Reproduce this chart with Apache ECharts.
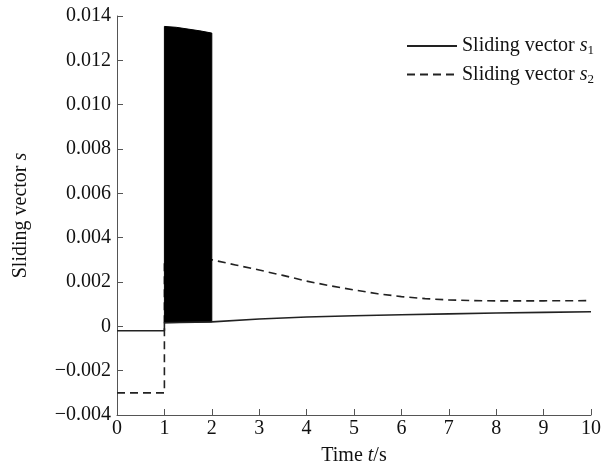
<!DOCTYPE html>
<html>
<head>
<meta charset="utf-8">
<script src="https://cdn.jsdelivr.net/npm/echarts@6/dist/echarts.min.js"></script>
<style>html,body{margin:0;padding:0;background:#fff;}#c{width:615px;height:463px;}</style>
</head>
<body>
<div id="c"></div>
<script>
// ---- data ----
const s1Time  = [0, 1, 1, 2, 3, 4, 5, 6, 7, 8, 9, 10];
const s1Value = [-0.0002, -0.0002, 0.00016, 0.0002, 0.00033, 0.00042, 0.00048, 0.00052, 0.00056, 0.0006, 0.00063, 0.00066];

const s2Time  = [0, 1, 1, 2, 2.5, 3, 3.5, 4, 4.5, 5, 5.5, 6, 6.5, 7, 7.5, 8, 9, 10];
const s2Value = [-0.003, -0.003, 0.003, 0.003, 0.00277, 0.00254, 0.0023, 0.00204, 0.00183, 0.00164, 0.00147, 0.00134, 0.00125, 0.00119, 0.00116, 0.00115, 0.00115, 0.00116];

// chattering band (envelope of the dense oscillation of s between t=1 and t=2)
const bandTime  = [1, 1.25, 1.5, 1.75, 2];
const bandUpper = [0.01353, 0.01349, 0.01341, 0.01333, 0.01323];
const bandLower = [0.00016, 0.00017, 0.00018, 0.00019, 0.0002];

const xTicks = [0, 1, 2, 3, 4, 5, 6, 7, 8, 9, 10];
const yTicks = [-0.004, -0.002, 0, 0.002, 0.004, 0.006, 0.008, 0.010, 0.012, 0.014];

const FONT = 'Liberation Serif';
const FS = 20;
const chart = echarts.init(document.getElementById('c'), null, {renderer: 'canvas'});

const zip = (a, b) => a.map((v, i) => [v, b[i]]);

const option = {
  animation: false,
  backgroundColor: '#fff',
  grid: {left: 117, right: 24, top: 16, bottom: 48, containLabel: false, outerBoundsMode: 'none'},
  legend: {
    data: ['s1', 's2'],
    orient: 'vertical',
    left: 401,
    top: 31,
    itemWidth: 50,
    itemHeight: 14,
    itemGap: 7,
    itemStyle: {opacity: 0},
    textStyle: {
      fontFamily: FONT, fontSize: FS, color: '#111',
      rich: {
        t: {fontFamily: FONT, fontSize: FS, color: '#111'},
        it: {fontFamily: FONT, fontSize: FS, fontStyle: 'italic', color: '#111'},
        sub: {fontFamily: FONT, fontSize: 13, color: '#111', padding: [10, 0, 0, 0]}
      }
    },
    formatter: function (name) {
      return '{t|Sliding vector }{it|s}{sub|' + name.slice(1) + '}';
    }
  },
  xAxis: {
    type: 'value',
    min: xTicks[0], max: xTicks[xTicks.length - 1], interval: 1,
    name: 'Time {it|t}/s',
    nameLocation: 'middle',
    nameGap: 31,
    nameTextStyle: {
      fontFamily: FONT, fontSize: FS, color: '#111',
      rich: {it: {fontFamily: FONT, fontSize: FS, fontStyle: 'italic', color: '#111'}}
    },
    axisLine: {onZero: false, lineStyle: {color: '#555', width: 1}},
    axisTick: {inside: true, length: 6, lineStyle: {color: '#555'}},
    axisLabel: {fontFamily: FONT, fontSize: FS, color: '#111', margin: 4,
      formatter: v => String(v)},
    splitLine: {show: false}
  },
  yAxis: {
    type: 'value',
    min: yTicks[0], max: yTicks[yTicks.length - 1], interval: 0.002,
    name: 'Sliding vector {it|s}',
    nameLocation: 'middle',
    nameGap: 86,
    nameRotate: 90,
    nameTextStyle: {
      fontFamily: FONT, fontSize: FS, color: '#111',
      rich: {it: {fontFamily: FONT, fontSize: FS, fontStyle: 'italic', color: '#111'}}
    },
    axisLine: {show: true, onZero: false, lineStyle: {color: '#555', width: 1}},
    axisTick: {show: true, inside: true, length: 6, lineStyle: {color: '#555'}},
    axisLabel: {fontFamily: FONT, fontSize: FS, color: '#111', margin: 6,
      formatter: function (v) {
        if (Math.abs(v) < 1e-9) return '0';
        return v.toFixed(3).replace('-', '\u2212');
      }},
    splitLine: {show: false}
  },
  series: [
    {
      name: 's2', type: 'line', symbol: 'none', z: 2,
      data: zip(s2Time, s2Value),
      lineStyle: {color: '#222', width: 1.6, type: [8, 5]},
      itemStyle: {color: '#222'}
    },
    {
      name: 'band', type: 'custom', z: 3,
      data: bandTime.map((t, i) => [t, bandUpper[i], bandLower[i]]),
      renderItem: function (params, api) {
        if (params.dataIndex !== 0) return null;
        const pts = [];
        for (let i = 0; i < bandTime.length; i++) pts.push(api.coord([bandTime[i], bandUpper[i]]));
        for (let i = bandTime.length - 1; i >= 0; i--) pts.push(api.coord([bandTime[i], bandLower[i]]));
        return {type: 'polygon', shape: {points: pts}, style: {fill: '#000', stroke: '#000', lineWidth: 1}};
      },
      encode: {x: 0, y: 1}
    },
    {
      name: 's1', type: 'line', symbol: 'none', z: 4,
      data: zip(s1Time, s1Value),
      lineStyle: {color: '#222', width: 1.6, type: 'solid'},
      itemStyle: {color: '#222'}
    }
  ]
};
chart.setOption(option);
</script>
</body>
</html>
